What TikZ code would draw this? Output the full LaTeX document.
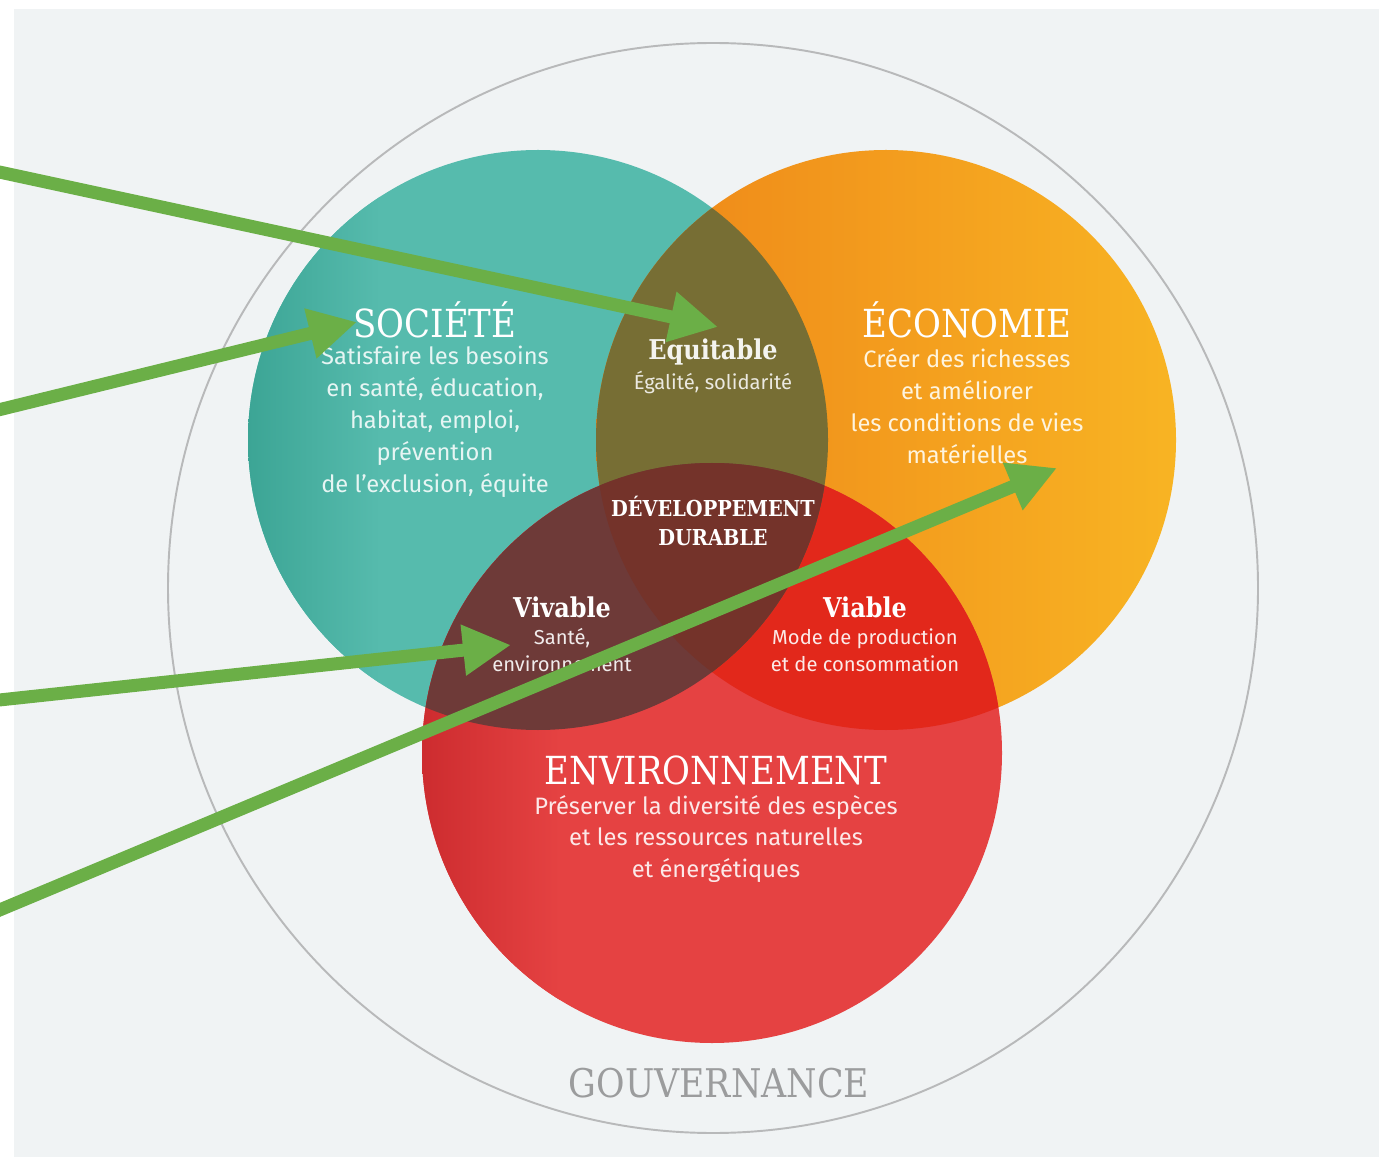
\documentclass[tikz,border=0pt]{standalone}
\usepackage{fontspec}
\setmainfont{Fira Sans}
\newfontfamily\slabfont[FakeStretch=0.88]{DejaVu Serif}
\usetikzlibrary{arrows.meta}
\definecolor{fond}{HTML}{F0F3F4}
\definecolor{cadre}{HTML}{B8B9BA}
\definecolor{tealfonce}{HTML}{3CA595}
\definecolor{tealclair}{HTML}{56BBAD}
\definecolor{orangefonce}{HTML}{EE8418}
\definecolor{orangeclair}{HTML}{F8B423}
\definecolor{rougefonce}{HTML}{CD2C2F}
\definecolor{rougeclair}{HTML}{E54242}
\definecolor{olive}{HTML}{776E34}
\definecolor{brun}{HTML}{6E3A38}
\definecolor{viable}{HTML}{E2281B}
\definecolor{centre}{HTML}{74332A}
\definecolor{vert}{HTML}{6BAF47}
\definecolor{gris}{HTML}{9B9C9D}
\tikzset{>=Triangle, pointer/.style = {draw=vert, line width=0.26cm,
    -{Triangle[length=0.96cm,width=0.96cm]}},
  titre/.style = {font=\slabfont\fontsize{22}{24}\selectfont, text=white, inner sep=0pt},
  soustitre/.style = {font=\slabfont\bfseries\fontsize{15.5}{17}\selectfont, text=white, inner sep=0pt},
  corps/.style = {align=center, font=\fontsize{13.5}{18.2}\selectfont, inner sep=0pt},
  petit/.style = {align=center, font=\fontsize{11.5}{15.4}\selectfont, inner sep=0pt}}

\begin{document}
\begin{tikzpicture}[x=0.02cm,y=-0.02cm]
    \useasboundingbox (0,0) rectangle (1379,1158);
    \fill[fond] (14,9) rectangle (1379,1157);
    \draw[cadre, line width=1.1pt] (713,588) circle[radius=545];

    % les trois cercles
    \fill[tealclair] (538,440) circle[radius=290];
    \begin{scope}
      \clip (538,440) circle[radius=290];
      \shade[left color=tealfonce, right color=tealclair] (248,150) rectangle (380,730);
    \end{scope}
    \shade[left color=orangefonce, right color=orangeclair] (886,440) circle[radius=290];
    \fill[rougeclair] (712,753) circle[radius=290];
    \begin{scope}
      \clip (712,753) circle[radius=290];
      \shade[left color=rougefonce, right color=rougeclair] (422,463) rectangle (560,1043);
    \end{scope}
    \begin{scope}
      \clip (886,440) circle[radius=290];
      \fill[viable] (712,753) circle[radius=290];
    \end{scope}
    \begin{scope}
      \clip (538,440) circle[radius=290];
      \fill[olive] (886,440) circle[radius=290];
      \fill[brun] (712,753) circle[radius=290];
      \clip (886,440) circle[radius=290];
      \fill[centre] (712,753) circle[radius=290];
    \end{scope}

    \node[titre] (societe) at (435,320) {SOCIÉTÉ};
    \node[corps, text=white!85!tealclair] (besoins) at (435,422)
      {Satisfaire les besoins\\en santé, éducation,\\habitat, emploi,\\prévention\\de l’exclusion, équite};
    \node[titre] (economie) at (967,320) {ÉCONOMIE};
    \node[corps, text=white!85!orangeclair] (richesses) at (967,406)
      {Créer des richesses\\et améliorer\\les conditions de vies\\matérielles};
    \node[soustitre, text=white!92!olive] (equitable) at (713,352) {Equitable};
    \node[petit, text=white!85!olive] (egalite) at (713,382) {Égalité, solidarité};
    \node[soustitre, align=center, font=\slabfont\bfseries\fontsize{12.5}{17}\selectfont] (durable) at (713,521)
      {DÉVELOPPEMENT\\DURABLE};
    \node[soustitre] (vivable) at (562,607) {Vivable};
    \node[petit, text=white!90!brun] (sante) at (562,650) {Santé,\\environnement};
    \node[soustitre] (viabletxt) at (865,607) {Viable};
    \node[petit, text=white!90!viable] (production) at (865,650) {Mode de production\\et de consommation};
    \node[titre] (environnement) at (716,770) {ENVIRONNEMENT};
    \node[corps, text=white!88!rougeclair] (especes) at (716,839)
      {Préserver la diversité des espèces\\et les ressources naturelles\\et énergétiques};
    \node[titre, text=gris, font=\slabfont\fontsize{22.5}{24}\selectfont] (gouvernance) at (719,1083) {GOUVERNANCE};

    % fleches
    \coordinate (s1) at (-10,170);
    \coordinate (t1) at (718,327);
    \coordinate (s2) at (-10,412);
    \coordinate (t2) at (357,322);
    \coordinate (s3) at (-10,701);
    \coordinate (t3) at (511,645);
    \coordinate (s4) at (-10,914);
    \coordinate (t4) at (1057,468);
    \draw[pointer] (s1) -- (t1);
    \draw[pointer] (s2) -- (t2);
    \draw[pointer] (s3) -- (t3);
    \draw[pointer] (s4) -- (t4);
  \end{tikzpicture}
\end{document}
